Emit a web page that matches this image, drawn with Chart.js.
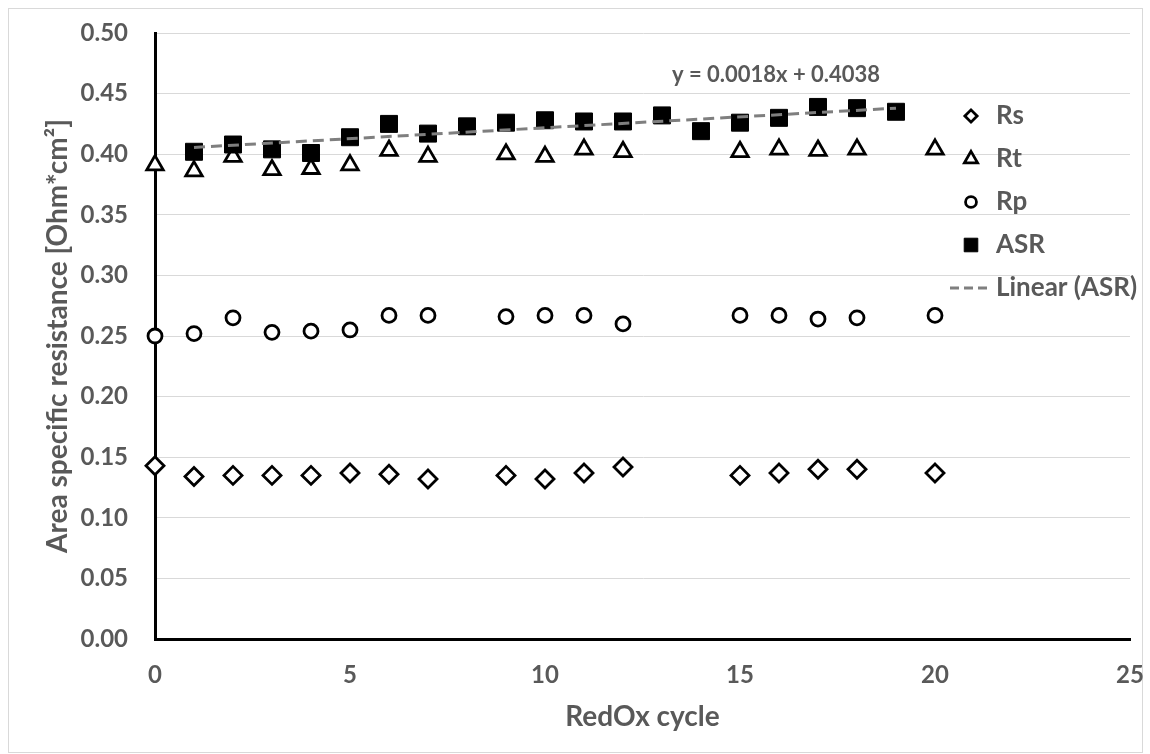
<!DOCTYPE html>
<html>
<head>
<meta charset="utf-8">
<script src="https://cdn.jsdelivr.net/npm/chart.js@4.4.0/dist/chart.umd.min.js"></script>
<style>
html,body{margin:0;padding:0;background:#fff;}
#wrap{width:1150px;height:754px;position:relative;}
</style>
</head>
<body>
<div id="wrap"><canvas id="c" width="1150" height="754"></canvas></div>
<script>
// ---- data ----
const cyclesMain = [0,1,2,3,4,5,6,7,9,10,11,12,15,16,17,18,20];
const rsValues = [0.143,0.134,0.135,0.135,0.135,0.137,0.136,0.132,0.135,0.132,0.137,0.142,0.135,0.137,0.140,0.140,0.137];
const rtValues = [0.391,0.386,0.398,0.387,0.388,0.391,0.403,0.398,0.400,0.398,0.404,0.402,0.402,0.404,0.403,0.404,0.404];
const rpValues = [0.250,0.252,0.265,0.253,0.254,0.255,0.267,0.267,0.266,0.267,0.267,0.260,0.267,0.267,0.264,0.265,0.267];
const cyclesAsr = [1,2,3,4,5,6,7,8,9,10,11,12,13,14,15,16,17,18,19];
const asrValues = [0.402,0.408,0.404,0.401,0.414,0.425,0.417,0.423,0.426,0.428,0.427,0.427,0.432,0.419,0.426,0.430,0.439,0.438,0.435];
const trendSlope = 0.0018;
const trendIntercept = 0.4038;
const trendLabel = 'y = 0.0018x + 0.4038';
const seriesNames = ['Rs','Rt','Rp','ASR','Linear (ASR)'];
const xTitle = 'RedOx cycle';
const yTitle = 'Area specific resistance [Ohm*cm\u00B2]';

const pts = (xs, ys) => xs.map((x, i) => ({x: x, y: ys[i]}));
const trendX = [Math.min(...cyclesAsr), Math.max(...cyclesAsr)];
const trendPts = trendX.map(x => ({x: x, y: trendSlope * x + trendIntercept}));

const FONT = 'Lato, "Open Sans", sans-serif';
const GREY = '#595959';

const markerStyles = [
  {pointStyle: 'rectRot', radius: 9, bg: '#ffffff', bw: 2.8},
  {pointStyle: 'triangle', radius: 9.5, bg: '#ffffff', bw: 2.8},
  {pointStyle: 'circle', radius: 7, bg: '#ffffff', bw: 2.8},
  {pointStyle: 'rect', radius: 12, bg: '#000000', bw: 1}
];

function scatterSet(label, data, st, order) {
  return {
    type: 'scatter', label: label, data: data, order: order,
    pointStyle: st.pointStyle, pointRadius: st.radius, pointHoverRadius: st.radius,
    pointBackgroundColor: st.bg, pointBorderColor: '#000000', pointBorderWidth: st.bw,
    showLine: false, clip: false
  };
}

const decorPlugin = {
  id: 'decor',
  beforeDraw(chart) {
    const ctx = chart.ctx;
    ctx.save();
    ctx.fillStyle = '#ffffff';
    ctx.fillRect(0, 0, chart.width, chart.height);
    ctx.strokeStyle = '#d9d9d9';
    ctx.lineWidth = 1;
    ctx.strokeRect(8.5, 8.5, 1134, 744);
    ctx.restore();
  },
  afterDraw(chart) {
    const ctx = chart.ctx;
    ctx.save();
    // trendline equation
    ctx.font = 'bold 22px ' + FONT;
    ctx.fillStyle = GREY;
    ctx.textAlign = 'center';
    ctx.textBaseline = 'middle';
    ctx.fillText(trendLabel, 776, 75);
    // legend
    const mx = 971, tx = 996, y0 = 116, dy = 43;
    ctx.font = 'bold 26px ' + FONT;
    ctx.textAlign = 'left';
    const legendScale = [0.68, 0.8, 0.78, 0.8];
    for (let i = 0; i < 4; i++) {
      const st = markerStyles[i];
      const y = y0 + i * dy;
      ctx.fillStyle = st.bg;
      ctx.strokeStyle = '#000000';
      ctx.lineWidth = st.bw;
      Chart.helpers.drawPoint(ctx, {pointStyle: st.pointStyle, radius: st.radius * legendScale[i], rotation: 0, borderWidth: st.bw}, mx, y);
      ctx.fillStyle = GREY;
      ctx.fillText(seriesNames[i], tx, y);
    }
    const yl = y0 + 4 * dy;
    ctx.strokeStyle = '#7f7f7f';
    ctx.lineWidth = 3;
    ctx.setLineDash([9, 5]);
    ctx.beginPath();
    ctx.moveTo(950, yl);
    ctx.lineTo(992, yl);
    ctx.stroke();
    ctx.setLineDash([]);
    ctx.fillStyle = GREY;
    ctx.fillText(seriesNames[4], tx, yl);
    ctx.restore();
  }
};

new Chart(document.getElementById('c'), {
  data: {
    datasets: [
      scatterSet(seriesNames[0], pts(cyclesMain, rsValues), markerStyles[0], 4),
      scatterSet(seriesNames[1], pts(cyclesMain, rtValues), markerStyles[1], 3),
      scatterSet(seriesNames[2], pts(cyclesMain, rpValues), markerStyles[2], 2),
      scatterSet(seriesNames[3], pts(cyclesAsr, asrValues), markerStyles[3], 1),
      {
        type: 'line', label: seriesNames[4], data: trendPts, order: 0,
        borderColor: '#7f7f7f', borderWidth: 3, borderDash: [11, 6],
        pointRadius: 0, fill: false, clip: false
      }
    ]
  },
  options: {
    responsive: false,
    animation: false,
    events: [],
    layout: {padding: {left: 0, right: 20, top: 33, bottom: 0}},
    plugins: {legend: {display: false}, tooltip: {enabled: false}},
    scales: {
      x: {
        type: 'linear', min: 0, max: 25,
        ticks: {stepSize: 5, font: {family: FONT, size: 24, weight: 'bold'}, color: GREY, padding: 22, maxRotation: 0},
        grid: {display: false, drawTicks: false},
        border: {display: true, color: '#000000', width: 3},
        title: {display: true, text: xTitle, font: {family: FONT, size: 28, weight: 'bold'}, color: GREY, padding: {top: 0, bottom: 20}},
        afterFit(s) { s.height = 115; s.paddingLeft = 0; s.paddingRight = 0; }
      },
      y: {
        type: 'linear', min: 0, max: 0.5,
        ticks: {stepSize: 0.05, font: {family: FONT, size: 24, weight: 'bold'}, color: GREY, padding: 27,
          callback: v => Number(v).toFixed(2)},
        grid: {color: '#d9d9d9', lineWidth: 1, drawTicks: false},
        border: {display: true, color: '#000000', width: 3},
        title: {display: true, text: yTitle, font: {family: FONT, size: 28, weight: 'bold'}, color: GREY, padding: {top: 41, bottom: 0}},
        afterFit(s) { s.width = 155; s.paddingTop = 0; s.paddingBottom = 0; }
      }
    }
  },
  plugins: [decorPlugin]
});
</script>
</body>
</html>
